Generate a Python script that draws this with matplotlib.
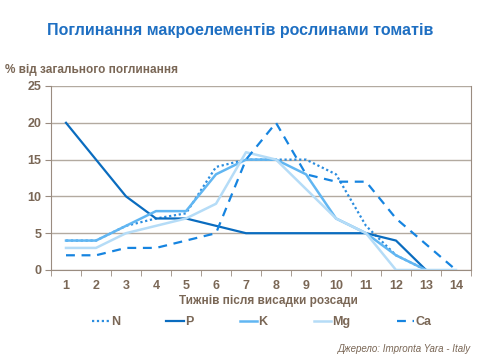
import matplotlib
matplotlib.use("Agg")
import matplotlib.pyplot as plt

plt.rcParams['font.family'] = ['Liberation Sans', 'DejaVu Sans']

# Data
weeks = list(range(1, 15))
n_vals = [4, 4, 6, 7, 7.7, 14, 15, 15, 15, 13, 6, 2, 0]
p_vals = [20, 15, 10, 7, 7, 6, 5, 5, 5, 5, 5, 4, 0]
k_vals = [4, 4, 6, 8, 8, 13, 15, 15, 13, 7, 5, 2, 0]
mg_vals = [3, 3, 5, 6, 7, 9, 16, 15, 11, 7, 5, 0, 0, 0]
ca_vals = [2, 2, 3, 3, 4, 5, 15, 20, 13, 12, 12, 7, 3.5, 0]

title = "Поглинання макроелементів рослинами томатів"
y_label = "% від загального поглинання"
x_label = "Тижнів після висадки розсади"
source = "Джерело: Impronta Yara - Italy"

text_col = "#7a6756"
grid_col = "#b3aaa0"

fig = plt.figure(figsize=(4.8, 3.6), dpi=100)
ax = fig.add_axes([51 / 480, 1 - 270 / 360, 420 / 480, 184 / 360])

ax.plot(weeks[:len(n_vals)], n_vals, linestyle=(0, (1, 1.2)), color="#2b8ddf", lw=1.6, label="N")
ax.plot(weeks[:len(p_vals)], p_vals, color="#0a6cbf", lw=1.6, label="P")
ax.plot(weeks[:len(k_vals)], k_vals, color="#61b6f2", lw=1.8, label="K")
ax.plot(weeks[:len(mg_vals)], mg_vals, color="#b5dcf7", lw=1.8, label="Mg")
ax.plot(weeks[:len(ca_vals)], ca_vals, linestyle=(0, (4, 3)), color="#1684e0", lw=1.6, label="Ca")

ax.set_xlim(0.5, 14.5)
ax.set_ylim(0, 25)
ax.set_yticks(range(0, 26, 5))
ax.set_xticks(weeks)
ax.set_xticks([w + 0.5 for w in range(0, 15)], minor=True)
ax.grid(axis='y', color=grid_col, lw=1)
ax.set_axisbelow(True)

for side in ['top', 'right', 'left', 'bottom']:
    ax.spines[side].set_color("#9a8c80")
ax.spines['top'].set_visible(False)

ax.tick_params(axis='x', which='major', length=0, pad=7, labelsize=9, labelcolor=text_col)
ax.tick_params(axis='x', which='minor', length=4, color="#9a8c80", direction='out')
ax.tick_params(axis='y', length=4, color="#9a8c80", labelsize=9, labelcolor=text_col, pad=3)
for lbl in ax.get_xticklabels() + ax.get_yticklabels():
    lbl.set_fontweight('bold')

fig.text(0.5, 1 - 31 / 360, title, ha='center', va='center', fontsize=11.5,
         fontweight='bold', color="#1e6fc2")
fig.text(5 / 480, 1 - 70 / 360, y_label, ha='left', va='center', fontsize=8.5,
         fontweight='bold', color=text_col)
fig.text(268 / 480, 1 - 301 / 360, x_label, ha='center', va='center', fontsize=8.5,
         fontweight='bold', color=text_col)
fig.text(471 / 480, 1 - 349 / 360, source, ha='right', va='center', fontsize=7,
         style='italic', color=text_col)

leg = fig.legend(loc='center', bbox_to_anchor=(262 / 480, 1 - 322 / 360), ncol=5,
                 frameon=False, handlelength=1.4, handletextpad=0.1,
                 columnspacing=3.7, fontsize=9)
for t in leg.get_texts():
    t.set_color(text_col)
    t.set_fontweight('bold')

fig.savefig("out.png", dpi=100)
